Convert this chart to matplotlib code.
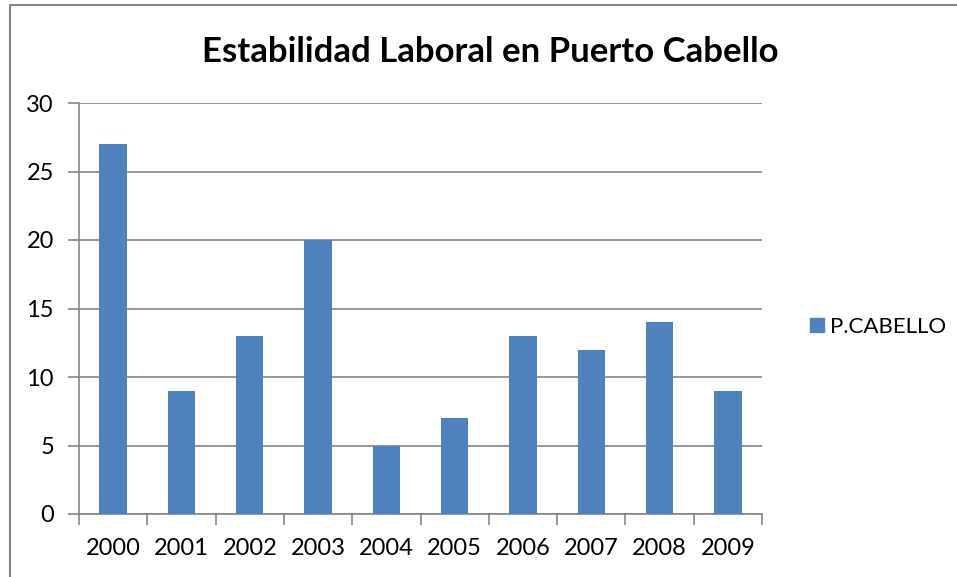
import matplotlib
matplotlib.use("Agg")
import matplotlib.pyplot as plt
from matplotlib.patches import Rectangle
from matplotlib.lines import Line2D
import numpy as np

years = ["2000", "2001", "2002", "2003", "2004", "2005", "2006", "2007", "2008", "2009"]
values = [27, 9, 13, 20, 5, 7, 13, 12, 14, 9]
series_name = "P.CABELLO"
title = "Estabilidad Laboral en Puerto Cabello"

BAR = "#4f81bd"
GRID = "#868686"
FONT = "Lato"

W, H = 957, 577
fig = plt.figure(figsize=(W / 100, H / 100), dpi=100)
fig.patch.set_facecolor("white")

# plot area in pixels: x 79..762, y 103..514
ax = fig.add_axes([79 / W, 1 - 514 / H, (762 - 79) / W, (514 - 103) / H])

x = np.arange(len(years))
ax.bar(x, values, width=0.4, color=BAR, zorder=3)

ax.set_xlim(-0.5, len(years) - 0.5)
ax.set_ylim(0, 30)
ax.set_yticks(range(0, 31, 5))
ax.yaxis.grid(True, color=GRID, linewidth=1.2, zorder=0)
ax.set_axisbelow(True)

for s in ["top", "right"]:
    ax.spines[s].set_visible(False)
for s in ["left", "bottom"]:
    ax.spines[s].set_color(GRID)
    ax.spines[s].set_linewidth(1.2)

# category labels at centres, tick marks at boundaries
ax.set_xticks(x)
ax.set_xticklabels(years, fontsize=17, family=FONT)
ax.tick_params(axis="x", length=0, pad=17)
ax.set_xticks(np.arange(-0.5, len(years)), minor=True)
ax.tick_params(axis="x", which="minor", length=8, width=1.2, color=GRID)
ax.tick_params(axis="y", length=8, width=1.2, color=GRID, pad=10)
for lbl in ax.get_yticklabels():
    lbl.set_fontsize(17)
    lbl.set_family(FONT)

fig.text(490 / W, 1 - 52 / H, title, ha="center", va="center",
         fontsize=25, fontweight="bold", family=FONT)

handle = Line2D([], [], marker="s", linestyle="none", markersize=10,
                markerfacecolor=BAR, markeredgecolor=BAR)
fig.legend([handle], [series_name], loc="center left",
           bbox_to_anchor=(797 / W, 1 - 327 / H), frameon=False,
           prop={"family": FONT, "size": 16}, handletextpad=0.1,
           borderaxespad=0, handlelength=1.0)

# outer chart border (only top and left visible in the crop)
fig.patches.append(Rectangle((9.5 / W, -0.1), 1.2, 1 - 4.5 / H + 0.1,
                             transform=fig.transFigure, fill=False,
                             edgecolor=GRID, linewidth=1.5))

fig.savefig("out.png", dpi=100)
